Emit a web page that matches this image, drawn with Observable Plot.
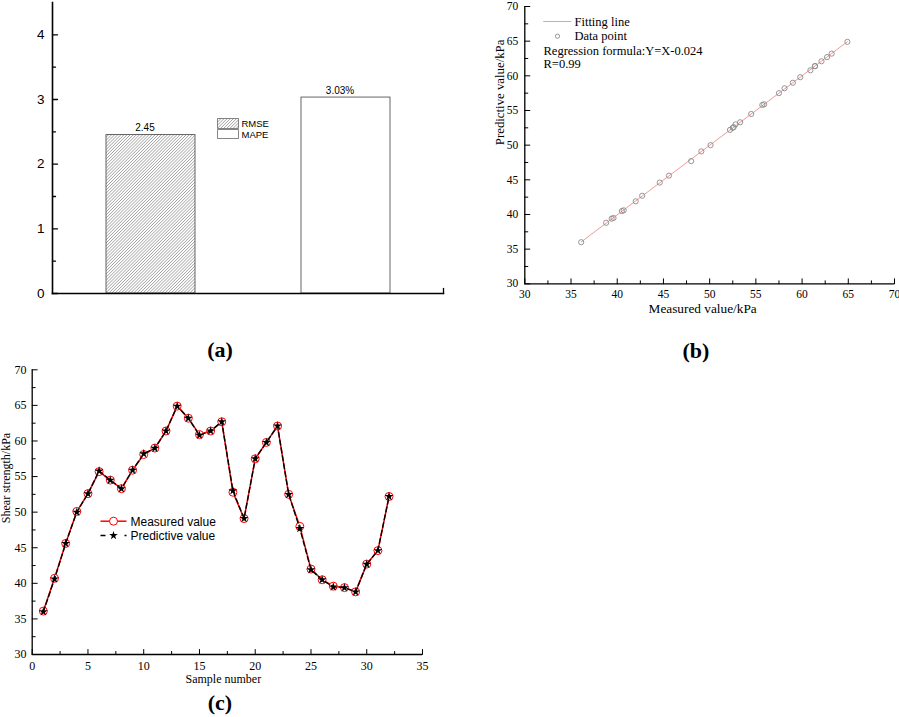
<!DOCTYPE html>
<html><head><meta charset="utf-8">
<script src="https://cdn.jsdelivr.net/npm/d3@7"></script>
<script src="https://cdn.jsdelivr.net/npm/@observablehq/plot@0.6"></script>
<style>
html,body{margin:0;padding:0;background:#fff;}
#root{position:relative;width:899px;height:717px;overflow:hidden;background:#fff;}
.panel{position:absolute;}
.panel svg{overflow:visible;}
.tag{position:absolute;width:100px;text-align:center;font:bold 22px "Liberation Serif","Times New Roman",serif;line-height:22px;color:#000;}
</style></head><body><div id="root"></div>
<script>
// ---------- data ----------
const metricNames = ["RMSE", "MAPE"];
const metricValues = [2.45, 3.03];
const metricLabels = ["2.45", "3.03%"];
const metricFills = ["url(#hatch)", "#ffffff"];

const sampleNumbers = [1,2,3,4,5,6,7,8,9,10,11,12,13,14,15,16,17,18,19,20,21,22,23,24,25,26,27,28,29,30,31,32];
const measured  = [36.1,40.7,45.6,50.1,52.6,55.7,54.5,53.3,55.9,58.1,59.0,61.4,64.9,63.2,60.9,61.4,62.7,52.8,49.1,57.5,59.8,62.1,52.5,48.0,42.0,40.5,39.6,39.4,38.8,42.7,44.6,52.2];
const predicted = [36.0,40.6,45.6,50.0,52.6,55.8,54.5,53.3,55.9,58.2,59.0,61.4,64.9,63.2,60.8,61.4,62.7,53.0,49.1,57.5,59.8,62.1,52.5,47.7,41.9,40.5,39.5,39.4,38.8,42.7,44.6,52.2];

const barTicks = [0,1,2,3,4];
const barMinor = [0.5,1.5,2.5,3.5];
const kpaTicks = [30,35,40,45,50,55,60,65,70];
const kpaMinor = [32.5,37.5,42.5,47.5,52.5,57.5,62.5,67.5];
const sampleTicks = [0,5,10,15,20,25,30,35];
const sampleMinor = [2.5,7.5,12.5,17.5,22.5,27.5,32.5];

const metrics = metricNames.map((name, i) => ({name, value: metricValues[i], label: metricLabels[i], fill: metricFills[i]}));
const pairs = measured.map((m, i) => ({m, p: predicted[i]}));
const series = sampleNumbers.map((n, i) => ({n, meas: measured[i], pred: predicted[i]}));

const SERIF = "'Liberation Serif','Times New Roman',serif";
const SANS = "'Liberation Sans',Arial,sans-serif";
const FIT = "#f39a9a";

// legend symbols and tick shape
const hSeg = (w) => ({draw(ctx) { ctx.moveTo(-w / 2, 0); ctx.lineTo(w / 2, 0); }});
const box = (w, h) => ({draw(ctx) { ctx.rect(-w / 2, -h / 2, w, h); }});
const tickShape = {draw(ctx, l) { ctx.moveTo(0, 0); ctx.lineTo(0, -l); }};
const fmt = (d) => String(d);

// inward ticks drawn as vectors anchored on the frame edges, labels via axis marks
function axes({xTicks, xMinor, yTicks, yMinor, padX = 7, padY = 7, w = 1}) {
  const m = [];
  if (xTicks) {
    m.push(Plot.axisX(xTicks, {tickSize: 0, tickPadding: padX, tickFormat: fmt, label: null}));
    m.push(Plot.vector(xTicks, {x: d => d, frameAnchor: "bottom", length: 5, rotate: 0, anchor: "start", shape: tickShape, stroke: "#000", strokeWidth: w}));
  }
  if (xMinor) m.push(Plot.vector(xMinor, {x: d => d, frameAnchor: "bottom", length: 3, rotate: 0, anchor: "start", shape: tickShape, stroke: "#000", strokeWidth: w}));
  if (yTicks) {
    m.push(Plot.axisY(yTicks, {tickSize: 0, tickPadding: padY, tickFormat: fmt, label: null}));
    m.push(Plot.vector(yTicks, {y: d => d, frameAnchor: "left", length: 5, rotate: 90, anchor: "start", shape: tickShape, stroke: "#000", strokeWidth: w}));
  }
  if (yMinor) m.push(Plot.vector(yMinor, {y: d => d, frameAnchor: "left", length: 3, rotate: 90, anchor: "start", shape: tickShape, stroke: "#000", strokeWidth: w}));
  return m;
}

function hatchDefs() {
  const ns = "http://www.w3.org/2000/svg";
  const defs = document.createElementNS(ns, "defs");
  defs.innerHTML = '<pattern id="hatch" patternUnits="userSpaceOnUse" width="2.2" height="2.2" patternTransform="rotate(45)">' +
    '<rect width="2.2" height="2.2" fill="#fff"/><line x1="0" y1="0" x2="0" y2="2.2" stroke="#5e5e5e" stroke-width="0.85"/></pattern>';
  return defs;
}

const root = document.getElementById("root");
function place(node, left, top) {
  const d = document.createElement("div");
  d.className = "panel";
  d.style.left = left + "px";
  d.style.top = top + "px";
  d.appendChild(node);
  root.appendChild(d);
}
function tag(text, cx, baseline) {
  const d = document.createElement("div");
  d.className = "tag";
  d.textContent = text;
  d.style.left = (cx - 50) + "px";
  d.style.top = (baseline - 18.4) + "px";
  root.appendChild(d);
}

// ---------- panel (a) ----------
const plotA = Plot.plot({
  width: 450, height: 310,
  marginLeft: 52, marginRight: 7, marginTop: 2, marginBottom: 17,
  style: {fontFamily: SANS, fontSize: "13.5px", color: "#000", background: "transparent"},
  x: {domain: metricNames, paddingInner: 0.546, paddingOuter: 0.273, axis: null, label: null},
  y: {domain: [0, 4.5], label: null},
  marks: [
    hatchDefs,
    Plot.barY(metrics, {x: "name", y: "value", fill: "fill", stroke: "#555", strokeWidth: 0.9}),
    Plot.text(metrics, {x: "name", y: "value", text: "label", dy: -4, dx: -6, lineAnchor: "bottom", fontSize: 10, fontFamily: SANS}),
    Plot.frame({anchor: "left", strokeWidth: 1.6}),
    Plot.frame({anchor: "bottom", strokeWidth: 1.6}),
    ...axes({yTicks: barTicks, yMinor: barMinor, padY: 8, w: 1.3}),
    Plot.vector([0], {frameAnchor: "bottom-right", length: 5, rotate: 0, anchor: "start", shape: tickShape, stroke: "#000", strokeWidth: 1.3}),
    Plot.dot([0], {frameAnchor: "top-left", dx: 175.5, dy: 121, symbol: box(21, 10), r: 5, fill: "url(#hatch)", stroke: "#666", strokeWidth: 0.8}),
    Plot.dot([0], {frameAnchor: "top-left", dx: 175.5, dy: 131.5, symbol: box(21, 9), r: 5, fill: "#fff", stroke: "#666", strokeWidth: 0.8}),
    Plot.text(["RMSE"], {frameAnchor: "top-left", dx: 189, dy: 124, text: d => d, textAnchor: "start", lineAnchor: "bottom", fontSize: 9.5, fontFamily: SANS}),
    Plot.text(["MAPE"], {frameAnchor: "top-left", dx: 189, dy: 135, text: d => d, textAnchor: "start", lineAnchor: "bottom", fontSize: 9.5, fontFamily: SANS})
  ]
});
place(plotA, 0, 0);

// ---------- panel (b) ----------
const plotB = Plot.plot({
  width: 429, height: 320,
  marginLeft: 54.3, marginRight: 5, marginTop: 6, marginBottom: 36.7,
  style: {fontFamily: SERIF, fontSize: "11.5px", color: "#000", background: "transparent"},
  x: {domain: [30, 70], label: null},
  y: {domain: [30, 70], label: null},
  marks: [
    Plot.linearRegressionY(pairs, {x: "m", y: "p", stroke: FIT, strokeWidth: 1, ci: 0}),
    Plot.dot(pairs, {x: "m", y: "p", r: 2.6, stroke: "#8a8a8a", strokeWidth: 0.9, fill: "none"}),
    Plot.ruleX([30], {strokeWidth: 1.3}),
    Plot.ruleY([30], {strokeWidth: 1.3}),
    ...axes({xTicks: kpaTicks, xMinor: kpaMinor, yTicks: kpaTicks, yMinor: kpaMinor, padX: 6.5, padY: 6.6}),
    Plot.text(["Measured value/kPa"], {frameAnchor: "bottom", dy: 29, dx: -7, text: d => d, lineAnchor: "bottom", fontSize: 13.3, fontFamily: SERIF}),
    Plot.text(["Predictive value/kPa"], {frameAnchor: "left", dx: -21, text: d => d, rotate: -90, lineAnchor: "bottom", fontSize: 12.8, fontFamily: SERIF}),
    Plot.dot([0], {frameAnchor: "top-left", dx: 32.4, dy: 15, symbol: hSeg(28), r: 5, stroke: FIT, strokeWidth: 1, fill: "none"}),
    Plot.dot([0], {frameAnchor: "top-left", dx: 32.7, dy: 29.7, r: 2.1, stroke: "#8a8a8a", strokeWidth: 0.9, fill: "none"}),
    Plot.text(["Fitting line"], {frameAnchor: "top-left", dx: 49.7, dy: 19, text: d => d, textAnchor: "start", lineAnchor: "bottom", fontSize: 12.5, fontFamily: SERIF}),
    Plot.text(["Data point"], {frameAnchor: "top-left", dx: 49.7, dy: 33.5, text: d => d, textAnchor: "start", lineAnchor: "bottom", fontSize: 12.5, fontFamily: SERIF}),
    Plot.text(["Regression formula:Y=X-0.024"], {frameAnchor: "top-left", dx: 18.7, dy: 48, text: d => d, textAnchor: "start", lineAnchor: "bottom", fontSize: 12.5, fontFamily: SERIF}),
    Plot.text(["R=0.99"], {frameAnchor: "top-left", dx: 18.7, dy: 61.5, text: d => d, textAnchor: "start", lineAnchor: "bottom", fontSize: 12.5, fontFamily: SERIF})
  ]
});
place(plotB, 470, 0);

// ---------- panel (c) ----------
const plotC = Plot.plot({
  width: 450, height: 330,
  marginLeft: 31.7, marginRight: 28, marginTop: 9.3, marginBottom: 36,
  style: {fontFamily: SERIF, fontSize: "12px", color: "#000", background: "transparent"},
  x: {domain: [0, 35], label: null},
  y: {domain: [30, 70], label: null},
  marks: [
    Plot.line(series, {x: "n", y: "meas", stroke: "#ff0000", strokeWidth: 1.5}),
    Plot.dot(series, {x: "n", y: "meas", r: 4, stroke: "#ff0000", strokeWidth: 1, fill: "#fff"}),
    Plot.line(series, {x: "n", y: "pred", stroke: "#000", strokeWidth: 1.4, strokeDasharray: "5,3"}),
    Plot.dot(series, {x: "n", y: "pred", symbol: "star", r: 2.8, fill: "#000"}),
    Plot.ruleX([0], {strokeWidth: 1.3}),
    Plot.ruleY([30], {strokeWidth: 1.3}),
    ...axes({xTicks: sampleTicks, xMinor: sampleMinor, yTicks: kpaTicks, yMinor: kpaMinor, padX: 6.5, padY: 5.7}),
    Plot.text(["Sample number"], {frameAnchor: "bottom", dy: 28.5, dx: -4, text: d => d, lineAnchor: "bottom", fontSize: 12, fontFamily: SERIF}),
    Plot.text(["Shear strength/kPa"], {frameAnchor: "left", dx: -22.7, dy: 11, text: d => d, rotate: -90, lineAnchor: "bottom", fontSize: 12, fontFamily: SERIF}),
    Plot.dot([0], {frameAnchor: "top-left", dx: 81.3, dy: 151.4, symbol: hSeg(26), r: 5, stroke: "#ff0000", strokeWidth: 1.5, fill: "none"}),
    Plot.dot([0], {frameAnchor: "top-left", dx: 81.3, dy: 151.4, r: 4, stroke: "#ff0000", strokeWidth: 1, fill: "#fff"}),
    Plot.dot([0], {frameAnchor: "top-left", dx: 81.3, dy: 165.7, symbol: hSeg(26), r: 5, stroke: "#000", strokeWidth: 1.4, strokeDasharray: "5,19,2,10", fill: "none"}),
    Plot.dot([0], {frameAnchor: "top-left", dx: 81.3, dy: 165.7, symbol: "star", r: 2.7, fill: "#000"}),
    Plot.text(["Measured value"], {frameAnchor: "top-left", dx: 98.3, dy: 155.7, text: d => d, textAnchor: "start", lineAnchor: "bottom", fontSize: 12, fontFamily: SANS}),
    Plot.text(["Predictive value"], {frameAnchor: "top-left", dx: 98.3, dy: 169.7, text: d => d, textAnchor: "start", lineAnchor: "bottom", fontSize: 12, fontFamily: SANS})
  ]
});
place(plotC, 0, 360);

tag("(a)", 220, 357);
tag("(b)", 696, 358);
tag("(c)", 220, 710);
</script></body></html>
